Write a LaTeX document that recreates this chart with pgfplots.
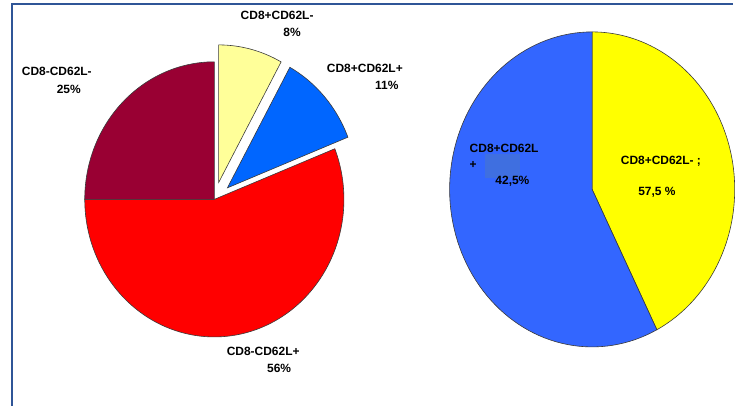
\documentclass[border=0pt]{standalone}
\usepackage{pgfplots}
\pgfplotsset{compat=1.18}
\usepackage{fontspec}
\setmainfont{Liberation Sans}
\definecolor{lyel}{HTML}{FFFF99}
\definecolor{lblue}{HTML}{0066FF}
\definecolor{lred}{HTML}{FF0000}
\definecolor{dred}{HTML}{990033}
\definecolor{rblue}{HTML}{3366FF}
\definecolor{ryel}{HTML}{FFFF00}
\definecolor{patch}{HTML}{3F6FE0}
\definecolor{edge}{HTML}{3A3A3A}
\definecolor{frame}{HTML}{2F5597}
% ---- data (percent) ----
% left pie
\def\PA{8}   % CD8+CD62L-
\def\PB{11}  % CD8+CD62L+
\def\PC{56}  % CD8-CD62L+
\def\PD{25}  % CD8-CD62L-
% right pie (slice sizes as drawn)
\def\QA{42.5} % yellow
\def\QB{57.5} % blue
% ---- geometry ----
\def\Lcx{215}\def\Lcy{207}\def\Lrx{130}\def\Lry{138}\def\Lex{17.5}
\def\Rcx{594}\def\Rcy{217}\def\Rrx{143}\def\Rry{158}
\pgfmathsetmacro\aA{90}
\pgfmathsetmacro\aB{\aA-3.6*\PA}
\pgfmathsetmacro\aC{\aB-3.6*\PB}
\pgfmathsetmacro\aD{\aC-3.6*\PC}
\pgfmathsetmacro\aE{\aD-3.6*\PD}
\pgfmathsetmacro\mA{(\aA+\aB)/2}
\pgfmathsetmacro\mB{(\aB+\aC)/2}
\pgfmathsetmacro\Ax{\Lcx+\Lex*cos(\mA)}
\pgfmathsetmacro\Ay{\Lcy+\Lex*sin(\mA)}
\pgfmathsetmacro\Bx{\Lcx+\Lex*cos(\mB)}
\pgfmathsetmacro\By{\Lcy+\Lex*sin(\mB)}
\pgfmathsetmacro\bA{90}
\pgfmathsetmacro\bB{\bA-3.6*\QA}
\pgfmathsetmacro\bC{\bB-3.6*\QB}
\begin{document}
\begin{tikzpicture}
\begin{axis}[width=735bp,height=407bp,scale only axis,
  xmin=0,xmax=735,ymin=0,ymax=407,hide axis,clip=false,samples=90,
  every axis plot/.append style={line width=0.6bp}]
\path (axis cs:0,0) rectangle (axis cs:735,407);
% frame
\addplot[draw=frame,line width=2bp] coordinates {(12,0) (12,403) (735,403)};
% left pie
\addplot[fill=lyel,draw=edge,domain=\aB:\aA] ({\Ax+\Lrx*cos(x)},{\Ay+\Lry*sin(x)}) -- (axis cs:\Ax,\Ay) -- cycle;
\addplot[fill=lblue,draw=edge,domain=\aC:\aB] ({\Bx+\Lrx*cos(x)},{\By+\Lry*sin(x)}) -- (axis cs:\Bx,\By) -- cycle;
\addplot[fill=lred,draw=edge,domain=\aD:\aC] ({\Lcx+\Lrx*cos(x)},{\Lcy+\Lry*sin(x)}) -- (axis cs:\Lcx,\Lcy) -- cycle;
\addplot[fill=dred,draw=edge,domain=\aE:\aD] ({\Lcx+\Lrx*cos(x)},{\Lcy+\Lry*sin(x)}) -- (axis cs:\Lcx,\Lcy) -- cycle;
% right pie
\addplot[fill=ryel,draw=edge,domain=\bB:\bA] ({\Rcx+\Rrx*cos(x)},{\Rcy+\Rry*sin(x)}) -- (axis cs:\Rcx,\Rcy) -- cycle;
\addplot[fill=rblue,draw=edge,domain=\bC:\bB] ({\Rcx+\Rrx*cos(x)},{\Rcy+\Rry*sin(x)}) -- (axis cs:\Rcx,\Rcy) -- cycle;
\addplot[fill=patch,draw=none] coordinates {(487,228) (522,228) (522,253) (487,253)} -- cycle;
% labels
\begin{scope}[every node/.style={font=\fontsize{12bp}{14bp}\selectfont\bfseries,inner sep=0pt,text=black}]
\node at (axis cs:278,392) {CD8+CD62L-};
\node at (axis cs:293,375) {8\%};
\node at (axis cs:57,335) {CD8-CD62L-};
\node at (axis cs:69,317) {25\%};
\node at (axis cs:366,338) {CD8+CD62L+};
\node at (axis cs:388,321) {11\%};
\node at (axis cs:264,55) {CD8-CD62L+};
\node at (axis cs:280,37) {56\%};
\node[anchor=west] at (axis cs:471,258) {CD8+CD62L};
\node[anchor=west] at (axis cs:471,241) {+};
\node at (axis cs:514,225) {42,5\%};
\node at (axis cs:663,245) {CD8+CD62L- ;};
\node at (axis cs:659,214) {57,5 \%};
\end{scope}
\end{axis}
\end{tikzpicture}
\end{document}
